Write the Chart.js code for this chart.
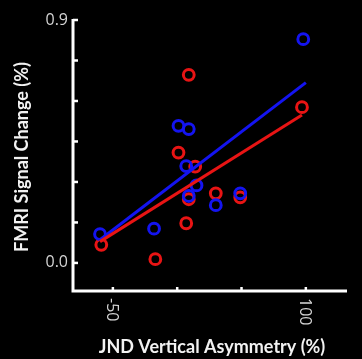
<!DOCTYPE html>
<html>
<head>
<meta charset="utf-8">
<script src="https://cdn.jsdelivr.net/npm/chart.js@4"></script>
<style>
  html, body { margin: 0; padding: 0; background: #000; }
  canvas { display: block; }
</style>
</head>
<body>
<canvas id="chart" width="362" height="359"></canvas>
<script>
// data
const blueX = [98, 1, 9, 7, 15, 9, 30, 49, -18, -60];
const blueY = [0.829, 0.508, 0.496, 0.359, 0.287, 0.248, 0.214, 0.258, 0.127, 0.107];
const redX = [97, 9, 1, 14, 9, 30, 49, 7, -17, -59];
const redY = [0.577, 0.697, 0.409, 0.357, 0.236, 0.258, 0.243, 0.147, 0.014, 0.067];

// fitted lines (end points)
const blueFitX = [-60, 100];
const blueFitY = [0.086, 0.668];
const redFitX = [-60, 97];
const redFitY = [0.079, 0.548];

// axis ticks
const xTicks = [-50, 0, 50, 100];
const xTickLabels = { "-50": "-50", "100": "100" };
const yTicks = [0, 0.15, 0.3, 0.45, 0.6, 0.75, 0.9];
const yTickLabels = { "0": "0.0", "0.9": "0.9" };

const xTitle = "JND Vertical Asymmetry (%)";
const yTitle = "FMRI Signal Change (%)";

const BLUE = "#1414f0";
const RED = "#e81414";

function toPoints(xs, ys) {
  return xs.map((x, i) => ({ x: x, y: ys[i] }));
}

// 🔹 axes, ticks and titles drawn by hand
const axisPlugin = {
  id: "axisPlugin",
  beforeDraw(chart) {
    const ctx = chart.ctx;
    ctx.save();
    ctx.fillStyle = "#000";
    ctx.fillRect(0, 0, chart.width, chart.height);
    ctx.restore();
  },
  afterDraw(chart) {
    const ctx = chart.ctx;
    const xs = chart.scales.x;
    const ys = chart.scales.y;
    const area = chart.chartArea;
    ctx.save();

    // axis lines
    ctx.strokeStyle = "#fff";
    ctx.lineWidth = 3;
    ctx.beginPath();
    ctx.moveTo(area.left, area.top - 1);
    ctx.lineTo(area.left, area.bottom);
    ctx.lineTo(area.right, area.bottom);
    ctx.stroke();

    // tick marks
    ctx.lineWidth = 2.5;
    yTicks.forEach(v => {
      const py = ys.getPixelForValue(v);
      ctx.beginPath();
      ctx.moveTo(area.left, py);
      ctx.lineTo(area.left + 5, py);
      ctx.stroke();
    });
    xTicks.forEach(v => {
      const px = xs.getPixelForValue(v);
      ctx.beginPath();
      ctx.moveTo(px, area.bottom);
      ctx.lineTo(px, area.bottom - 4);
      ctx.stroke();
    });

    // tick labels
    ctx.fillStyle = "#d4d4d4";
    ctx.font = "16px 'Open Sans'";
    ctx.textAlign = "right";
    ctx.textBaseline = "middle";
    yTicks.forEach(v => {
      const lbl = yTickLabels[String(v)];
      if (lbl) ctx.fillText(lbl, area.left - 5, ys.getPixelForValue(v));
    });
    xTicks.forEach(v => {
      const lbl = xTickLabels[String(v)];
      if (!lbl) return;
      ctx.save();
      ctx.translate(xs.getPixelForValue(v) - 1, area.bottom + 7);
      ctx.rotate(Math.PI / 2);
      ctx.textAlign = "left";
      ctx.textBaseline = "middle";
      ctx.fillText(lbl, 0, 0);
      ctx.restore();
    });

    // titles
    ctx.fillStyle = "#f2f2f2";
    ctx.font = "bold 18px Lato";
    ctx.textAlign = "center";
    ctx.textBaseline = "middle";
    ctx.fillText(xTitle, 212, 347);
    ctx.save();
    ctx.translate(22, 157);
    ctx.rotate(-Math.PI / 2);
    ctx.fillText(yTitle, 0, 0);
    ctx.restore();

    ctx.restore();
  }
};

new Chart(document.getElementById("chart"), {
  type: "scatter",
  data: {
    datasets: [
      {
        type: "line",
        data: toPoints(redFitX, redFitY),
        borderColor: RED,
        borderWidth: 3,
        pointRadius: 0,
        order: 0
      },
      {
        type: "line",
        data: toPoints(blueFitX, blueFitY),
        borderColor: BLUE,
        borderWidth: 3,
        pointRadius: 0,
        order: 1
      },
      {
        data: toPoints(blueX, blueY),
        borderColor: BLUE,
        backgroundColor: "transparent",
        pointRadius: 5.4,
        pointBorderWidth: 3,
        order: 2
      },
      {
        data: toPoints(redX, redY),
        borderColor: RED,
        backgroundColor: "transparent",
        pointRadius: 5.4,
        pointBorderWidth: 3,
        order: 3
      }
    ]
  },
  options: {
    responsive: false,
    animation: false,
    devicePixelRatio: 1,
    layout: { padding: { left: 0, right: 15, top: 20, bottom: 0 } },
    plugins: { legend: { display: false }, tooltip: { enabled: false } },
    scales: {
      x: {
        type: "linear",
        min: -81,
        max: 132,
        grid: { display: false },
        border: { display: false },
        ticks: { display: false },
        afterFit(scale) { scale.height = 68; }
      },
      y: {
        type: "linear",
        min: -0.104,
        max: 0.9,
        grid: { display: false },
        border: { display: false },
        ticks: { display: false },
        afterFit(scale) { scale.width = 73; }
      }
    }
  },
  plugins: [axisPlugin]
});
</script>
</body>
</html>
